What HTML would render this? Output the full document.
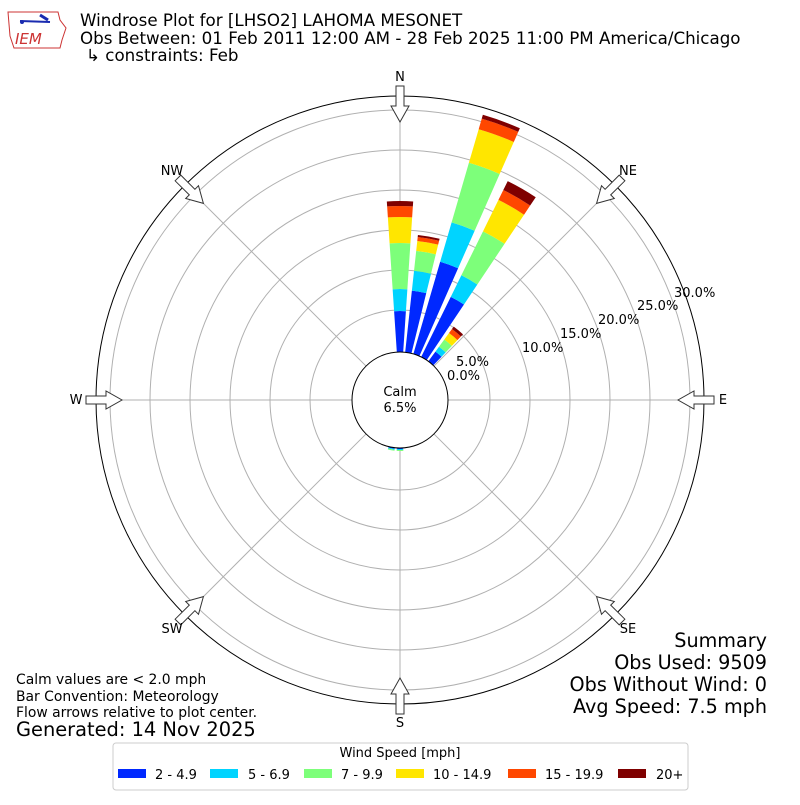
<!DOCTYPE html>
<html><head><meta charset="utf-8"><style>
body{margin:0;background:#fff;}
svg text{font-family:"DejaVu Sans","Liberation Sans",sans-serif;}
</style></head><body>
<svg id="s" width="800" height="800" xmlns="http://www.w3.org/2000/svg">
<rect width="800" height="800" fill="#fff"/>
<g>
<path d="M8,12 L58,12 L60,20 L66,28 L62,40 L60,48 L14,48 L10,36 Z" fill="none" stroke="#c33" stroke-width="1"/>
<line x1="20" y1="21" x2="50" y2="22" stroke="#1a2bb0" stroke-width="2"/>
<circle cx="22" cy="22" r="2" fill="#1a2bb0"/>
<line x1="40" y1="15" x2="48" y2="20" stroke="#1a2bb0" stroke-width="3"/>
<text x="15" y="44" font-family="Liberation Serif,serif" font-style="italic" font-size="15" fill="#c33">IEM</text>
</g>
<text x="80" y="26" font-size="16.7">Windrose Plot for [LHSO2] LAHOMA MESONET</text>
<text x="80" y="44" font-size="16.7">Obs Between: 01 Feb 2011 12:00 AM - 28 Feb 2025 11:00 PM America/Chicago</text>
<text x="86" y="61" font-size="16.7">↳ constraints: Feb</text>
<g id="grid" fill="none" stroke="#b0b0b0" stroke-width="1"></g>
<g id="bars"></g>
<circle cx="400" cy="400" r="304" fill="none" stroke="#000" stroke-width="1"/>
<circle cx="400" cy="400" r="48" fill="#fff" stroke="#000" stroke-width="1"/>
<g id="arrows" fill="#fff" stroke="#333" stroke-width="1"></g>
<text x="400" y="396" font-size="13" text-anchor="middle">Calm</text>
<text x="400" y="412" font-size="13" text-anchor="middle">6.5%</text>
<g font-size="13">
<text x="400" y="81" text-anchor="middle">N</text>
<text x="628" y="175" text-anchor="middle">NE</text>
<text x="723" y="404" text-anchor="middle">E</text>
<text x="628" y="633" text-anchor="middle">SE</text>
<text x="400" y="727" text-anchor="middle">S</text>
<text x="172" y="633" text-anchor="middle">SW</text>
<text x="76" y="404" text-anchor="middle">W</text>
<text x="172" y="175" text-anchor="middle">NW</text>
<text x="447" y="380">0.0%</text>
<text x="456" y="366">5.0%</text>
<text x="522" y="352">10.0%</text>
<text x="560" y="338">15.0%</text>
<text x="598" y="324">20.0%</text>
<text x="637" y="310">25.0%</text>
<text x="674" y="297">30.0%</text>
</g>
<g font-size="13.9">
<text x="16" y="684">Calm values are &lt; 2.0 mph</text>
<text x="16" y="701">Bar Convention: Meteorology</text>
<text x="16" y="717">Flow arrows relative to plot center.</text>
</g>
<text x="16" y="736" font-size="19.4">Generated: 14 Nov 2025</text>
<g font-size="19.2" text-anchor="end">
<text x="767" y="647">Summary</text>
<text x="767" y="669">Obs Used: 9509</text>
<text x="767" y="691">Obs Without Wind: 0</text>
<text x="767" y="713">Avg Speed: 7.5 mph</text>
</g>
<rect x="113" y="743" width="575" height="47" rx="3" fill="#fff" stroke="#ccc"/>
<text x="400" y="757" font-size="13" text-anchor="middle">Wind Speed [mph]</text>
<g font-size="13">
<rect x="118" y="769" width="28" height="9" fill="#0028ff"/><text x="155" y="779">2 - 4.9</text>
<rect x="210" y="769" width="28" height="9" fill="#00d4ff"/><text x="248" y="779">5 - 6.9</text>
<rect x="304" y="769" width="28" height="9" fill="#7dff7a"/><text x="341" y="779">7 - 9.9</text>
<rect x="396" y="769" width="28" height="9" fill="#ffe600"/><text x="433" y="779">10 - 14.9</text>
<rect x="508" y="769" width="28" height="9" fill="#ff4700"/><text x="545" y="779">15 - 19.9</text>
<rect x="618" y="769" width="28" height="9" fill="#7f0000"/><text x="656" y="779">20+</text>
</g>
</svg>
<script>
var NS="http://www.w3.org/2000/svg",cx=400,cy=400;
function el(t,a,p){var e=document.createElementNS(NS,t);for(var k in a)e.setAttribute(k,a[k]);p.appendChild(e);return e;}
var g=document.getElementById('grid');
[90,130,170,210,250,290].forEach(function(r){el('circle',{cx:cx,cy:cy,r:r},g);});
for(var i=0;i<8;i++){var a=i*Math.PI/4;el('line',{x1:cx+48*Math.sin(a),y1:cy-48*Math.cos(a),x2:cx+304*Math.sin(a),y2:cy-304*Math.cos(a)},g);}
var cols=["#0028ff","#00d4ff","#7dff7a","#ffe600","#ff4700","#7f0000"];
var data=[[0,[89,111,157,183,194,199]],[10,[110,130,150,160,164,166]],[20,[144,185,247,282,293,297]],[30,[115,139,188,223,234,244]],[40,[60,66,75,83,88,91]],[190,[49,50,51,51,51,51]],[180,[49,50,51,51,51,51]]];
var b=document.getElementById('bars');
function P(r,d){var a=d*Math.PI/180;return (cx+r*Math.sin(a)).toFixed(2)+","+(cy-r*Math.cos(a)).toFixed(2);}
data.forEach(function(d){var th=d[0],r0=48;d[1].forEach(function(r1,j){if(r1<=r0)return;var a1=th-3.8,a2=th+3.8;
el('path',{d:"M"+P(r0,a1)+" L"+P(r1,a1)+" A"+r1+","+r1+" 0 0 1 "+P(r1,a2)+" L"+P(r0,a2)+" A"+r0+","+r0+" 0 0 0 "+P(r0,a1)+"Z",fill:cols[j]},b);r0=r1;});});
var ar=document.getElementById('arrows');
for(var i=0;i<8;i++){var d=i*45;
var pts=[[-4,304+10],[4,304+10],[4,304-10],[9,304-10],[0,304-26],[-9,304-10],[-4,304-10]];
var s=pts.map(function(p){var a=d*Math.PI/180;var x=cx+p[1]*Math.sin(a)+p[0]*Math.cos(a),y=cy-p[1]*Math.cos(a)+p[0]*Math.sin(a);return x.toFixed(1)+","+y.toFixed(1);}).join(" ");
el('polygon',{points:s},ar);}
</script>
</body></html>
